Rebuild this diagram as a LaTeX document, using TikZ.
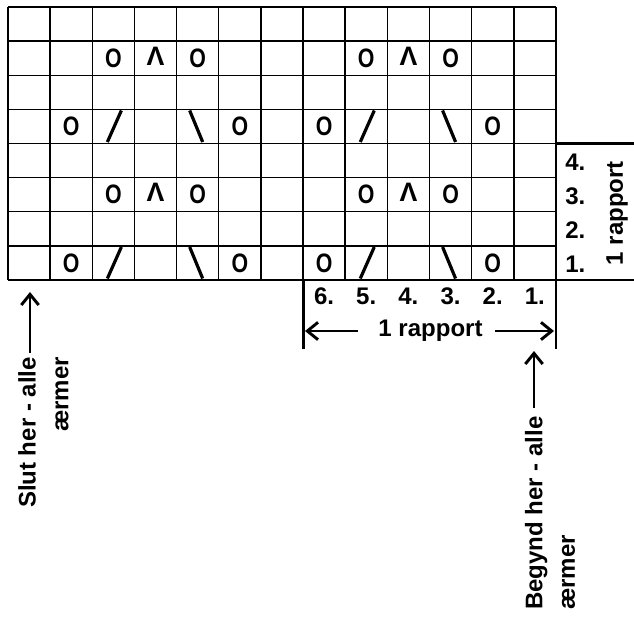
\documentclass[tikz,border=0pt]{standalone}
\usepackage{fontspec}
\setmainfont{Liberation Sans}
\usepackage{graphicx}
\usetikzlibrary{arrows.meta}

\tikzset{
    gridline/.style={line width=1.1pt},
    thickline/.style={line width=2.2pt},
    strik/.style={line width=2.4pt},
    sym/.style={font=\bfseries\fontsize{20}{20}\selectfont, inner sep=0pt},
    lbl/.style={font=\bfseries\fontsize{18}{24.5}\selectfont, inner sep=0pt},
    pil/.style={line width=2.2pt, -{Straight Barb[length=8pt,width=13pt,line width=2.2pt]}},
}

\begin{document}
\begin{tikzpicture}[x=0.75pt,y=0.75pt,yscale=-1,xscale=1]
        \useasboundingbox (0,0) rectangle (634,619);

        %Grid: 13 columns, 8 rows
        \foreach \i in {0,...,13}
            \draw[gridline] (8+42.15*\i,7) -- (8+42.15*\i,280);
        \foreach \j in {0,...,8}
            \draw[gridline] (8,7+34.125*\j) -- (556,7+34.125*\j);

        %Rows with O ^ O
        \foreach \r in {2,6}{
            \foreach \c in {3,5,9,11}
                \node[sym] (o-\r-\c) at (42.15*\c-13.075,34.125*\r-10.06) {\scalebox{0.8}[1]{O}};
            \foreach \c in {4,10}
                \node[sym] (k-\r-\c) at (42.15*\c-13.075,34.125*\r-12.06) {Λ};
        }
        %Rows with O / \ O
        \foreach \r in {4,8}{
            \foreach \c in {2,6,8,12}
                \node[sym] (o-\r-\c) at (42.15*\c-13.075,34.125*\r-10.06) {\scalebox{0.8}[1]{O}};
            \foreach \c in {3,9}
                \draw[strik] (42.15*\c-19.075,34.125*\r+5.5) -- (42.15*\c-5.075,34.125*\r-26);
            \foreach \c in {5,11}
                \draw[strik] (42.15*\c-21.075,34.125*\r-26) -- (42.15*\c-8.075,34.125*\r+5.5);
        }

        %Row rapport on the right
        \draw[thickline] (556,143.5) -- (634,143.5);
        \draw[thickline] (556,280) -- (634,280);
        \node[lbl, anchor=west] (r4) at (565,162) {4.};
        \node[lbl, anchor=west] (r3) at (565,196) {3.};
        \node[lbl, anchor=west] (r2) at (565,230) {2.};
        \node[lbl, anchor=west] (r1) at (565,264) {1.};
        \node[lbl, rotate=90] (rapR) at (617,213) {1 rapport};

        %Stitch rapport below
        \draw[thickline] (303.05,280) -- (303.05,349);
        \draw[thickline] (556,280) -- (556,349);
        \node[lbl] (m6) at (324.1,296) {6.};
        \node[lbl] (m5) at (366.2,296) {5.};
        \node[lbl] (m4) at (408.4,296) {4.};
        \node[lbl] (m3) at (450.5,296) {3.};
        \node[lbl] (m2) at (492.7,296) {2.};
        \node[lbl] (m1) at (534.9,296) {1.};
        \node[lbl] (rapB) at (430.5,331) {1 rapport};
        \coordinate (vL) at (358,331);
        \coordinate (vLtip) at (305,331);
        \coordinate (vR) at (495,331);
        \coordinate (vRtip) at (554,331);
        \draw[pil] (vL) -- (vLtip);
        \draw[pil] (vR) -- (vRtip);

        %Start and end
        \coordinate (slut) at (30,353);
        \coordinate (slutTip) at (30,292);
        \draw[pil] (slut) -- (slutTip);
        \node[lbl, rotate=90, align=right, anchor=east] (slutTxt) at (43.5,357) {Slut her - alle\\ærmer};
        \coordinate (beg) at (534,408);
        \coordinate (begTip) at (534,351);
        \draw[pil] (beg) -- (begTip);
        \node[lbl, rotate=90, align=left, anchor=west] (begTxt) at (550,610) {Begynd her - alle\\ærmer};

\end{tikzpicture}
\end{document}
